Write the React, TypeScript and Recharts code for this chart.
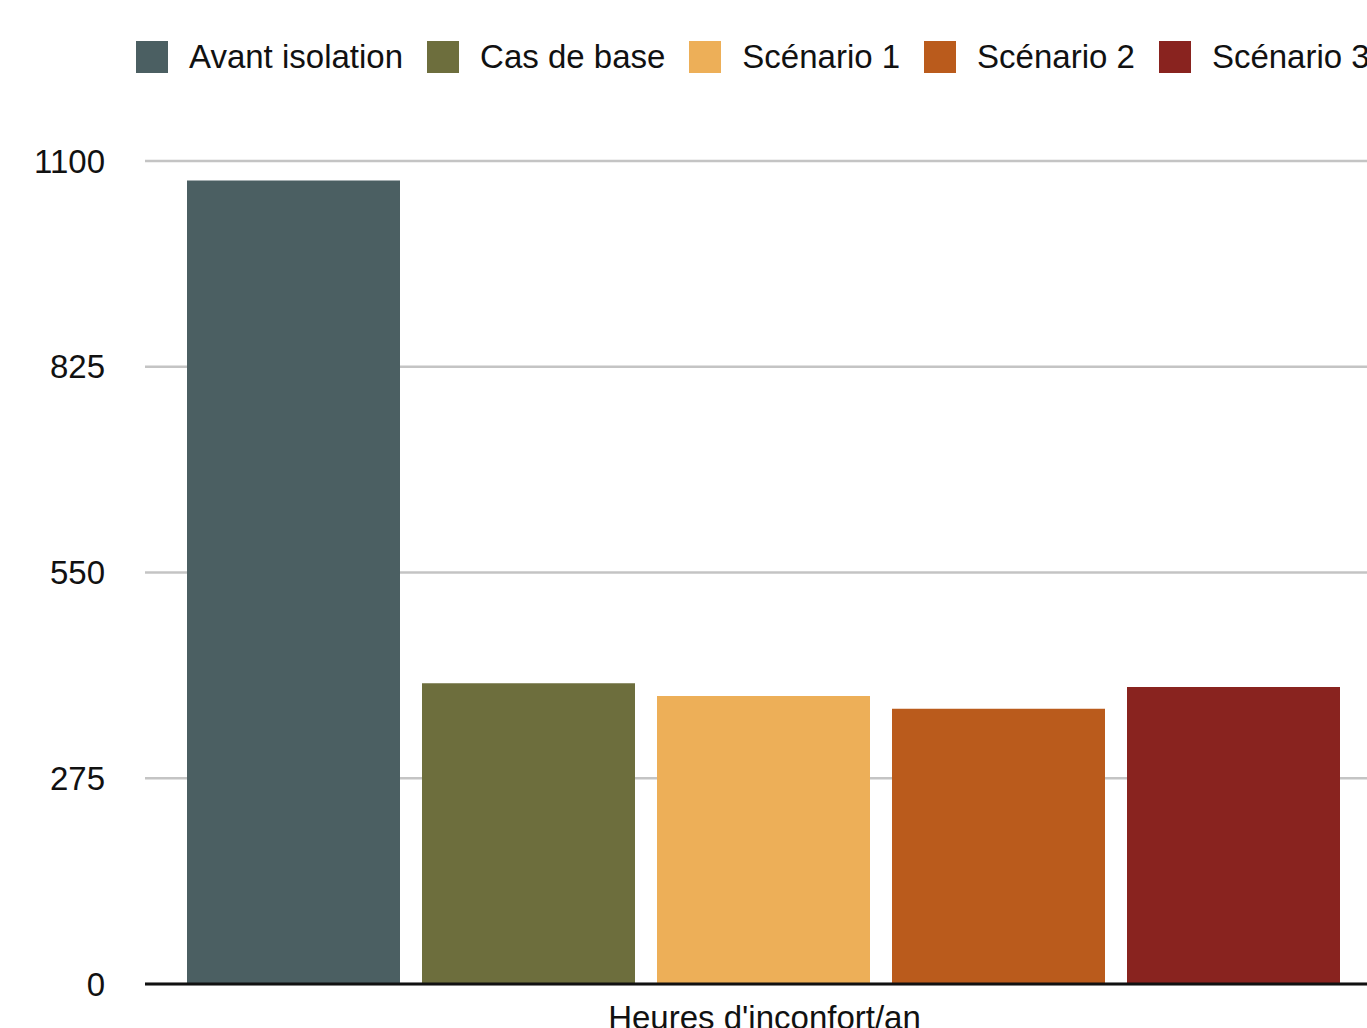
import React from "react";
import { BarChart, Bar, XAxis, YAxis, CartesianGrid, Legend } from "recharts";

const categories = ["Heures d'inconfort/an"];
const seriesNames = ["Avant isolation", "Cas de base", "Scénario 1", "Scénario 2", "Scénario 3"];
const seriesValues = [1074, 402, 385, 368, 397];
const seriesColors = ["#4B5F62", "#6D6E3D", "#EDAF58", "#BA5B1C", "#89231F"];
const yTicks = [0, 275, 550, 825, 1100];

const data = categories.map((c) => {
  const row: Record<string, string | number> = { category: c };
  seriesNames.forEach((n, i) => {
    row[n] = seriesValues[i];
  });
  return row;
});

const FONT = "'Liberation Sans', Arial, Helvetica, sans-serif";

const LegendContent = (props: any) => {
  const payload = props.payload || [];
  return (
    <div style={{ display: "flex", alignItems: "center", whiteSpace: "nowrap", fontFamily: FONT, fontSize: 33, color: "#111", height: 32 }}>
      {payload.map((p: any, i: number) => (
        <div key={i} style={{ display: "flex", alignItems: "center", marginRight: 24 }}>
          <div style={{ width: 32, height: 32, background: p.color, marginRight: 21 }} />
          <span>{p.value}</span>
        </div>
      ))}
    </div>
  );
};

export default function App() {
  return (
    <div style={{ position: "fixed", top: 0, left: 0, width: 1367, height: 1028, overflow: "hidden", background: "#fff" }}>
      <BarChart
        width={1400}
        height={1060}
        data={data}
        margin={{ top: 161, right: 16, bottom: 0, left: 0 }}
        barCategoryGap={42}
        barGap={22}
      >
        <CartesianGrid vertical={false} stroke="#c4c4c4" strokeWidth={2.5} />
        <XAxis
          dataKey="category"
          height={76}
          axisLine={{ stroke: "#111", strokeWidth: 3 }}
          tickLine={false}
          tickSize={0}
          tickMargin={22}
          tick={{ fill: "#111", fontSize: 33, fontFamily: FONT }}
        />
        <YAxis
          width={145}
          domain={[0, 1100]}
          ticks={yTicks}
          axisLine={false}
          tickLine={false}
          tickSize={0}
          tickMargin={40}
          tick={{ fill: "#111", fontSize: 33, fontFamily: FONT }}
        />
        <Legend
          verticalAlign="middle"
          content={<LegendContent />}
          wrapperStyle={{ position: "absolute", top: 41, left: 136, width: 1400, height: 32 }}
        />
        {seriesNames.map((n, i) => (
          <Bar key={n} dataKey={n} fill={seriesColors[i]} isAnimationActive={false} />
        ))}
      </BarChart>
    </div>
  );
}
